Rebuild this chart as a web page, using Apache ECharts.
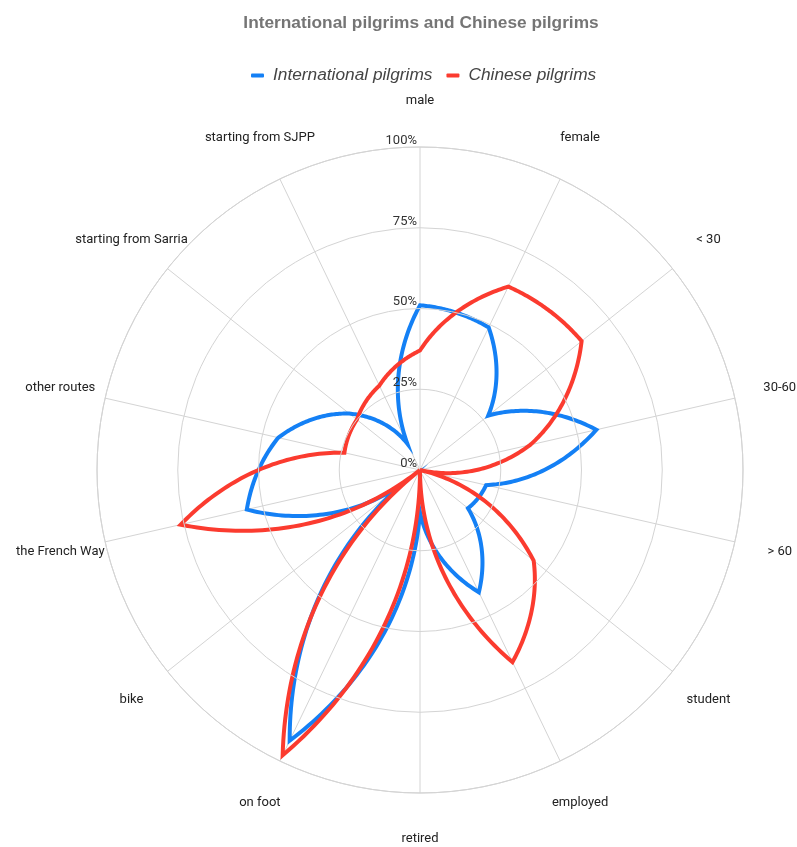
<!DOCTYPE html>
<html>
<head>
<meta charset="utf-8">
<script src="https://cdn.jsdelivr.net/npm/echarts@6/dist/echarts.min.js"></script>
<style>
html,body{margin:0;padding:0;background:#fff;}
#chart{width:797px;height:847px;}
</style>
</head>
<body>
<div id="chart"></div>
<script>
// ---- data ----
const categories = ['male', 'female', '< 30', '30-60', '> 60', 'student', 'employed', 'retired',
  'on foot', 'bike', 'the French Way', 'other routes', 'starting from Sarria', 'starting from SJPP'];
const international = [51, 49, 27, 56, 21, 19, 42, 13, 93, 7, 55, 45, 28, 9];
const chinese = [37, 63, 64, 35, 0, 45, 66, 0, 98, 0, 76, 24, 25, 29];
const seriesNames = ['International pilgrims', 'Chinese pilgrims'];
const radiusTicks = [0, 25, 50, 75, 100];

const FONT = 'Roboto, "Noto Sans", sans-serif';
const HEAD_FONT = '"Liberation Sans", Arial, sans-serif';
const BLUE = '#1480f5';
const RED = '#fb3b2f';
const GRID = '#d4d4d4';

// Lines drawn in polar space: radius changes linearly with angle between neighbouring axes
function renderPetals(params, api) {
  if (params.dataIndex !== 0) return null;
  const n = params.dataInsideLength;
  const steps = 48;
  const pts = [];
  for (let k = 0; k < n; k++) {
    const r0 = api.value(0, k), a0 = api.value(1, k);
    const r1 = api.value(0, (k + 1) % n);
    const a1 = (k + 1 < n) ? api.value(1, k + 1) : api.value(1, 0) + n;
    for (let s = 0; s < steps; s++) {
      const t = s / steps;
      pts.push(api.coord([r0 + (r1 - r0) * t, a0 + (a1 - a0) * t]));
    }
  }
  return {
    type: 'polygon',
    shape: { points: pts },
    style: { fill: 'none', stroke: api.visual('color'), lineWidth: 4, lineJoin: 'miter', miterLimit: 40 }
  };
}

function renderCategoryLabel(params, api) {
  const i = api.value(1);
  const c = api.coord([0, i]);
  const p = api.coord([api.value(0), i]);
  const dx = p[0] - c[0], dy = p[1] - c[1];
  const R = Math.hypot(dx, dy);
  const f = (R + 46) / R;
  return {
    type: 'text',
    x: c[0] + dx * f,
    y: c[1] + dy * f,
    style: {
      text: categories[i], fill: '#222', fontSize: 13, fontFamily: FONT,
      align: 'center', verticalAlign: 'middle'
    }
  };
}

const chart = echarts.init(document.getElementById('chart'), null, { renderer: 'canvas' });
chart.setOption({
  animation: false,
  backgroundColor: '#fff',
  title: {
    text: 'International pilgrims and Chinese pilgrims',
    left: 416, textAlign: 'center', top: 10,
    textStyle: { color: '#757575', fontSize: 17.3, fontWeight: 'bold', fontFamily: HEAD_FONT }
  },
  legend: {
    data: seriesNames,
    top: 62, left: 246,
    icon: 'roundRect', itemWidth: 13, itemHeight: 4, itemGap: 14,
    textStyle: { color: '#444', fontSize: 17.3, fontStyle: 'italic', fontFamily: HEAD_FONT, padding: [0, 0, 0, 4] }
  },
  polar: { center: [420, 470], radius: 323 },
  angleAxis: {
    type: 'value', min: 0, max: categories.length, interval: 1,
    startAngle: 90, clockwise: true,
    axisLine: { show: true, lineStyle: { color: GRID, width: 1 } },
    axisTick: { show: false },
    axisLabel: { show: false },
    splitLine: { show: true, lineStyle: { color: GRID, width: 1 } }
  },
  radiusAxis: {
    type: 'value', min: radiusTicks[0], max: radiusTicks[radiusTicks.length - 1], interval: 25,
    axisLine: { show: false },
    axisTick: { show: false },
    splitLine: { show: true, lineStyle: { color: GRID, width: 1 } },
    axisLabel: {
      formatter: v => v + '%', color: '#333', fontSize: 13, fontFamily: FONT,
      align: 'right', verticalAlign: 'bottom', margin: 3
    },
    z: 10
  },
  series: [
    {
      name: seriesNames[0], type: 'custom', coordinateSystem: 'polar',
      itemStyle: { color: BLUE },
      data: international.map((v, i) => [v, i]),
      renderItem: renderPetals, z: 3
    },
    {
      name: seriesNames[1], type: 'custom', coordinateSystem: 'polar',
      itemStyle: { color: RED },
      data: chinese.map((v, i) => [v, i]),
      renderItem: renderPetals, z: 4
    },
    {
      type: 'custom', coordinateSystem: 'polar', silent: true,
      data: categories.map((c, i) => [100, i]),
      renderItem: renderCategoryLabel, z: 5
    }
  ]
});
</script>
</body>
</html>
